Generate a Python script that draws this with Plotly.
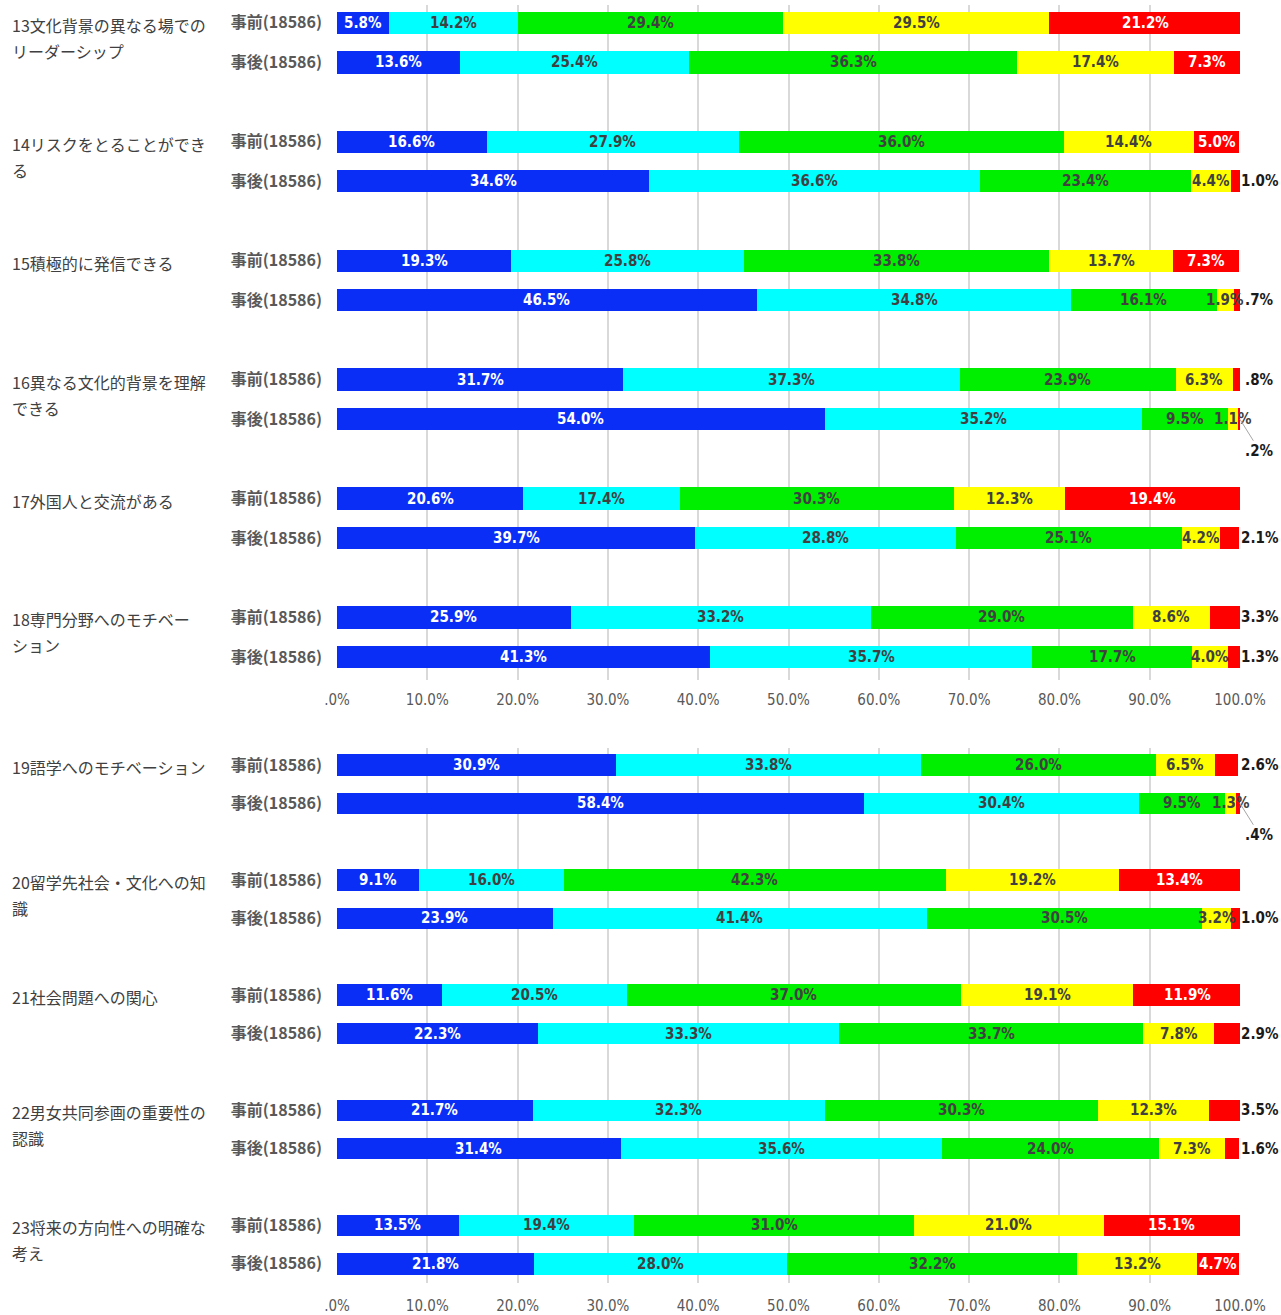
import plotly.graph_objects as go

# Survey items, split over two panels
items_top = [
    ["13文化背景の異なる場での", "リーダーシップ"],
    ["14リスクをとることができ", "る"],
    ["15積極的に発信できる"],
    ["16異なる文化的背景を理解", "できる"],
    ["17外国人と交流がある"],
    ["18専門分野へのモチベー", "ション"],
]
items_bottom = [
    ["19語学へのモチベーション"],
    ["20留学先社会・文化への知", "識"],
    ["21社会問題への関心"],
    ["22男女共同参画の重要性の", "認識"],
    ["23将来の方向性への明確な", "考え"],
]
row_labels = ["事前(18586)", "事後(18586)"]

# Shares (%) per response level; each item has a [before, after] pair
level1_top = [[5.8, 13.6], [16.6, 34.6], [19.3, 46.5], [31.7, 54.0], [20.6, 39.7], [25.9, 41.3]]
level2_top = [[14.2, 25.4], [27.9, 36.6], [25.8, 34.8], [37.3, 35.2], [17.4, 28.8], [33.2, 35.7]]
level3_top = [[29.4, 36.3], [36.0, 23.4], [33.8, 16.1], [23.9, 9.5], [30.3, 25.1], [29.0, 17.7]]
level4_top = [[29.5, 17.4], [14.4, 4.4], [13.7, 1.9], [6.3, 1.1], [12.3, 4.2], [8.6, 4.0]]
level5_top = [[21.2, 7.3], [5.0, 1.0], [7.3, 0.7], [0.8, 0.2], [19.4, 2.1], [3.3, 1.3]]

level1_bottom = [[30.9, 58.4], [9.1, 23.9], [11.6, 22.3], [21.7, 31.4], [13.5, 21.8]]
level2_bottom = [[33.8, 30.4], [16.0, 41.4], [20.5, 33.3], [32.3, 35.6], [19.4, 28.0]]
level3_bottom = [[26.0, 9.5], [42.3, 30.5], [37.0, 33.7], [30.3, 24.0], [31.0, 32.2]]
level4_bottom = [[6.5, 1.3], [19.2, 3.2], [19.1, 7.8], [12.3, 7.3], [21.0, 13.2]]
level5_bottom = [[2.6, 0.4], [13.4, 1.0], [11.9, 2.9], [3.5, 1.6], [15.1, 4.7]]

x_ticks = [0, 10, 20, 30, 40, 50, 60, 70, 80, 90, 100]
x_tick_text = [".0%", "10.0%", "20.0%", "30.0%", "40.0%", "50.0%",
               "60.0%", "70.0%", "80.0%", "90.0%", "100.0%"]

colors = ["#0A2EF5", "#00FFFF", "#00EE00", "#FFFF00", "#FF0000"]
text_colors = ["#FFFFFF", "#404040", "#404040", "#404040", "#FFFFFF"]
NUM_FONT = "Liberation Sans Narrow, DejaVu Sans Condensed, Arial Narrow, sans-serif"
JP_FONT = "Noto Sans CJK JP, Noto Sans, sans-serif"


def fmt(v):
    s = f"{v:.1f}%"
    return s[1:] if s.startswith("0.") else s


fig = go.Figure()
annotations = []

panels = [
    (items_top, [level1_top, level2_top, level3_top, level4_top, level5_top], "x", "y"),
    (items_bottom, [level1_bottom, level2_bottom, level3_bottom, level4_bottom, level5_bottom], "x2", "y2"),
]

for items, levels, xa, ya in panels:
    n = len(items)
    ypos = []
    for k in range(n):
        ypos += [3 * k, 3 * k + 1]
    for li, lev in enumerate(levels):
        vals = [v for pair in lev for v in pair]
        fig.add_trace(go.Bar(
            x=vals, y=ypos, orientation="h", width=0.56,
            marker=dict(color=colors[li], line=dict(width=0)),
            xaxis=xa, yaxis=ya, showlegend=False, hoverinfo="x",
        ))
    # value labels
    for k in range(n):
        for j in range(2):
            yv = 3 * k + j
            segs = [levels[li][k][j] for li in range(5)]
            cum = 0.0
            for li, v in enumerate(segs):
                mid = cum + v / 2
                cum += v
                end = min(cum, 99.99)
                if li == 4 and v < 4.5:
                    if segs[3] < 1.5:
                        # tiny slice: label pulled out below with a leader line
                        annotations.append(dict(
                            x=end, y=yv, xref=xa, yref=ya, text=fmt(v),
                            showarrow=True, arrowhead=0, arrowwidth=1,
                            arrowcolor="#A6A6A6", ax=20, ay=32,
                            font=dict(family=NUM_FONT, size=15, color="#1A1A1A", weight="bold"),
                        ))
                    else:
                        annotations.append(dict(
                            x=99.99, y=yv, xref=xa, yref=ya, text=fmt(v),
                            showarrow=False, xanchor="center", xshift=20,
                            font=dict(family=NUM_FONT, size=15, color="#1A1A1A", weight="bold"),
                        ))
                else:
                    annotations.append(dict(
                        x=mid, y=yv, xref=xa, yref=ya, text=fmt(v),
                        showarrow=False, xanchor="center",
                        font=dict(family=NUM_FONT, size=15, color=text_colors[li], weight="bold"),
                    ))
        # item captions on the left
        for line_no, line in enumerate(items[k]):
            annotations.append(dict(
                x=-0.3621, y=3 * k, xref="paper", yref=ya, text=line,
                showarrow=False, xanchor="left", yanchor="middle",
                yshift=-2 - 26 * line_no,
                font=dict(family=JP_FONT, size=16, color="#404040"),
            ))

axis_common = dict(
    range=[0, 100], tickvals=x_ticks, ticktext=x_tick_text,
    showgrid=True, gridcolor="#D9D9D9", gridwidth=1.5, zeroline=False,
    showline=False, ticks="", fixedrange=True, automargin=False,
    tickfont=dict(family=NUM_FONT, size=15, color="#595959"),
)
yaxis_common = dict(
    showgrid=False, zeroline=False, showline=False, ticks="", automargin=False,
    tickfont=dict(family=JP_FONT, size=16, color="#595959", weight="bold"),
    ticklabelstandoff=14,
)

fig.update_layout(
    width=1281, height=1315,
    margin=dict(l=337, r=41, t=5, b=32),
    paper_bgcolor="white", plot_bgcolor="white",
    barmode="stack", bargap=0,
    xaxis=dict(anchor="y", domain=[0, 1], ticklabelstandoff=9, **axis_common),
    xaxis2=dict(anchor="y2", domain=[0, 1], ticklabelstandoff=12, **axis_common),
    yaxis=dict(anchor="x", domain=[0.4718, 1], range=[16.58, -0.45],
               tickvals=[v for k in range(len(items_top)) for v in (3 * k, 3 * k + 1)],
               ticktext=row_labels * len(items_top), **yaxis_common),
    yaxis2=dict(anchor="x2", domain=[0, 0.4186], range=[13.5, -0.44],
                tickvals=[v for k in range(len(items_bottom)) for v in (3 * k, 3 * k + 1)],
                ticktext=row_labels * len(items_bottom), **yaxis_common),
    annotations=annotations,
)

fig.write_html("out.html")
